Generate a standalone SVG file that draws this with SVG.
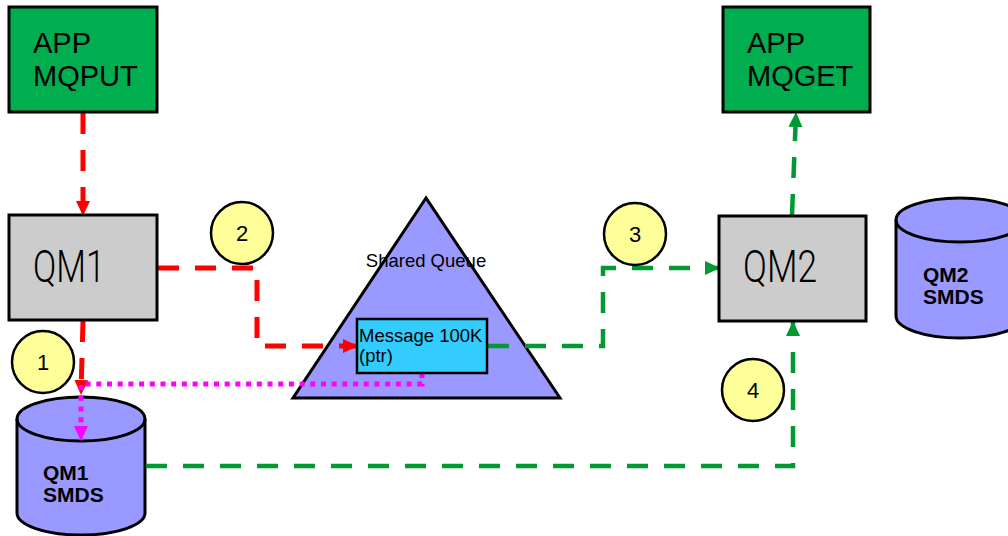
<svg xmlns="http://www.w3.org/2000/svg" width="1008" height="536" viewBox="0 0 1008 536">
<defs>
<style>
.app{fill:#00AD4F;stroke:#000;stroke-width:3}
.qm{fill:#CCCCCC;stroke:#000;stroke-width:3}
.cyl{fill:#9999FF;stroke:#000;stroke-width:3}
.num{fill:#FFFF99;stroke:#000;stroke-width:2.5}
.t{font-family:"Liberation Sans",Arial,sans-serif;fill:#000}
.big{font-size:29px}
.qmt{font-family:Roboto,"Liberation Sans",sans-serif;font-weight:300;font-size:44px}
.bold{font-size:21px;font-weight:bold}
.numt{font-size:22px;text-anchor:middle}
.sm{font-size:18.5px}
.red{fill:none;stroke:#FF0000;stroke-width:5;stroke-dasharray:21 16}
.grn{fill:none;stroke:#009933;stroke-width:4.5;stroke-dasharray:21 16}
.mag{fill:none;stroke:#FF00FF;stroke-width:5;stroke-dasharray:5 5.7}
</style>
<marker id="ar" markerUnits="userSpaceOnUse" markerWidth="16" markerHeight="16" viewBox="0 0 16 16" refX="14" refY="8" orient="auto"><path d="M0,1 L15,8 L0,15 Z" fill="#FF0000"/></marker>
<marker id="ag" markerUnits="userSpaceOnUse" markerWidth="16" markerHeight="16" viewBox="0 0 16 16" refX="14" refY="8" orient="auto"><path d="M0,1 L15,8 L0,15 Z" fill="#009933"/></marker>
<marker id="am" markerUnits="userSpaceOnUse" markerWidth="16" markerHeight="16" viewBox="0 0 16 16" refX="14" refY="8" orient="auto"><path d="M0,1 L15,8 L0,15 Z" fill="#FF00FF"/></marker>
</defs>
<rect width="1008" height="536" fill="#fff"/>

<g id="shared-queue">
<polygon points="426,198 293,398 560,398" fill="#9999FF" stroke="#000" stroke-width="3"/>
<text class="t sm" x="426" y="267" text-anchor="middle">Shared Queue</text>
</g>

<g id="qm1-smds">
<path class="cyl" d="M17,419 A64,22 0 0 1 145,419 L145,513 A64,22 0 0 1 17,513 Z"/>
<path d="M17,419 A64,22 0 0 0 145,419" fill="none" stroke="#000" stroke-width="3"/>
<text class="t bold" x="43" y="480">QM1</text>
<text class="t bold" x="43" y="502">SMDS</text>
</g>

<g id="qm2-smds">
<path class="cyl" d="M896,220 A64,22 0 0 1 1024,220 L1024,316 A64,22 0 0 1 896,316 Z"/>
<path d="M896,220 A64,22 0 0 0 1024,220" fill="none" stroke="#000" stroke-width="3"/>
<text class="t bold" x="923" y="282">QM2</text>
<text class="t bold" x="923" y="304">SMDS</text>
</g>

<g id="connectors">
<line class="red" x1="83" y1="113" x2="83" y2="215" marker-end="url(#ar)"/>
<polyline class="red" points="158,268 257,268 257,346 357,346" marker-end="url(#ar)"/>
<line class="red" x1="83" y1="321" x2="81" y2="394" marker-end="url(#ar)"/>
<polyline class="mag" points="422,373 422,384 81,384 81,440" marker-end="url(#am)"/>
<polyline class="grn" points="488,346 603,346 603,268 719,268" marker-end="url(#ag)"/>
<line class="grn" x1="792" y1="215" x2="796" y2="113" marker-end="url(#ag)"/>
<polyline class="grn" points="146,466 793,466 793,322" marker-end="url(#ag)"/>
</g>

<g id="message">
<rect x="357" y="319" width="130" height="54" fill="#33CCFF" stroke="#000" stroke-width="2.5"/>
<text class="t sm" x="359" y="342">Message 100K</text>
<text class="t sm" x="359" y="362">(ptr)</text>
</g>

<g id="app-mqput">
<rect class="app" x="9" y="7" width="148" height="105"/>
<text class="t big" x="33" y="53">APP</text>
<text class="t big" x="33" y="86">MQPUT</text>
</g>

<g id="app-mqget">
<rect class="app" x="723" y="7" width="147" height="105"/>
<text class="t big" x="747" y="53">APP</text>
<text class="t big" x="747" y="86">MQGET</text>
</g>

<g id="qm1">
<rect class="qm" x="9" y="215" width="148" height="105"/>
<text class="t qmt" x="33" y="282" textLength="72" lengthAdjust="spacingAndGlyphs">QM1</text>
</g>

<g id="qm2">
<rect class="qm" x="719" y="216" width="147" height="105"/>
<text class="t qmt" x="743" y="282" textLength="74" lengthAdjust="spacingAndGlyphs">QM2</text>
</g>

<g id="step1"><circle class="num" cx="43" cy="362" r="31"/><text class="t numt" x="43" y="370">1</text></g>
<g id="step2"><circle class="num" cx="242" cy="233" r="31"/><text class="t numt" x="242" y="241">2</text></g>
<g id="step3"><circle class="num" cx="635" cy="234" r="31"/><text class="t numt" x="635" y="242">3</text></g>
<g id="step4"><circle class="num" cx="753" cy="390" r="31"/><text class="t numt" x="753" y="398">4</text></g>
</svg>
